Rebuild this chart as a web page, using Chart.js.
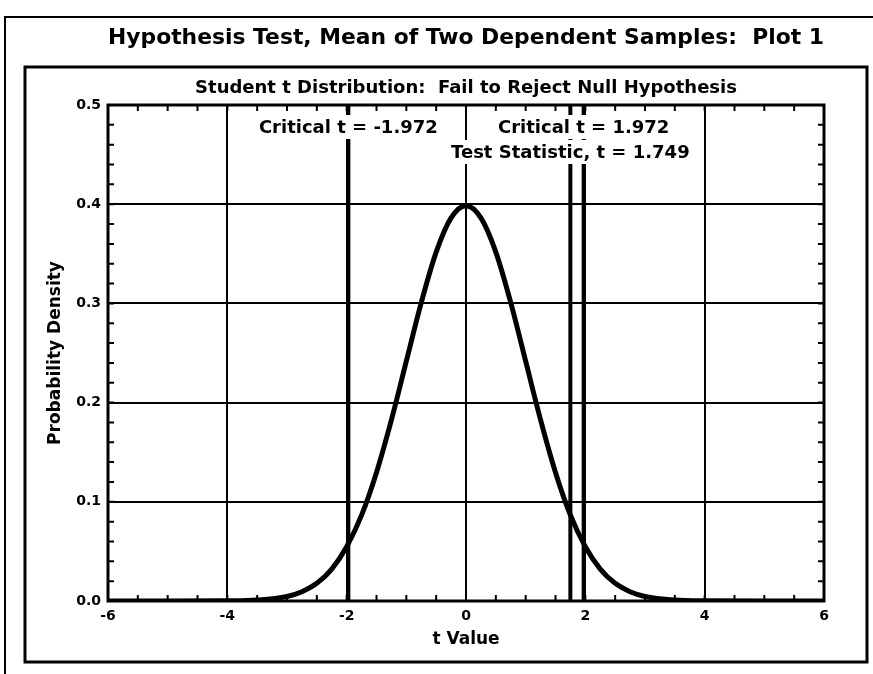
<!DOCTYPE html>
<html>
<head>
<meta charset="utf-8">
<script src="https://cdn.jsdelivr.net/npm/chart.js@4/dist/chart.umd.min.js"></script>
<style>
  html, body { margin: 0; padding: 0; background: #fff; }
  canvas { display: block; }
</style>
</head>
<body>
<canvas id="c" width="873" height="674"></canvas>
<script>
// ---- data ----
const tValues = [-6, -5, -4, -3.5, -3, -2.75, -2.5, -2.25, -2, -1.75, -1.5, -1.25, -1, -0.75, -0.5, -0.25,
                 0, 0.25, 0.5, 0.75, 1, 1.25, 1.5, 1.75, 2, 2.25, 2.5, 2.75, 3, 3.5, 4, 5, 6];
const density = [0.0000, 0.0000, 0.0002, 0.0010, 0.0046, 0.0094, 0.0178, 0.0322, 0.0547, 0.0865, 0.1296, 0.1826, 0.2417, 0.3008, 0.3517, 0.3862,
                 0.3984, 0.3862, 0.3517, 0.3008, 0.2417, 0.1826, 0.1296, 0.0865, 0.0547, 0.0322, 0.0178, 0.0094, 0.0046, 0.0010, 0.0002, 0.0000, 0.0000];
const criticalValues = [-1.972, 1.972];
const testStatistic = 1.749;
const xTicks = [-6, -4, -2, 0, 2, 4, 6];
const yTicks = [0.0, 0.1, 0.2, 0.3, 0.4, 0.5];
const criticalLabels = ["Critical t = -1.972", "Critical t = 1.972"];
const testLabel = "Test Statistic, t = 1.749";
const chartTitle = "Hypothesis Test, Mean of Two Dependent Samples:  Plot 1";
const chartSubtitle = "Student t Distribution:  Fail to Reject Null Hypothesis";
const xTitle = "t Value";
const yTitle = "Probability Density";

const FONT = "'DejaVu Sans', 'Liberation Sans', Arial, sans-serif";

const curveData = tValues.map((t, i) => ({ x: t, y: density[i] }));
const vLine = v => [{ x: v, y: yTicks[0] }, { x: v, y: yTicks[yTicks.length - 1] }];

const datasets = [
  ...criticalValues.map(v => ({ data: vLine(v), borderColor: '#000', borderWidth: 4, pointRadius: 0, tension: 0 })),
  { data: vLine(testStatistic), borderColor: '#000', borderWidth: 4, pointRadius: 0, tension: 0 },
  { data: curveData, borderColor: '#000', borderWidth: 5, pointRadius: 0, cubicInterpolationMode: 'monotone', borderJoinStyle: 'round', borderCapStyle: 'round' }
];

const framePlugin = {
  id: 'frames',
  beforeDraw(chart) {
    const ctx = chart.ctx;
    ctx.save();
    ctx.fillStyle = '#fff';
    ctx.fillRect(0, 0, chart.width, chart.height);
    ctx.strokeStyle = '#000';
    ctx.lineWidth = 2;
    ctx.strokeRect(5, 17, 900, 700);
    ctx.lineWidth = 3;
    ctx.strokeRect(25, 67, 842, 595);
    ctx.restore();
  },
  afterDatasetsDraw(chart) {
    const ctx = chart.ctx;
    const a = chart.chartArea;
    const xs = chart.scales.x, ys = chart.scales.y;
    ctx.save();
    ctx.strokeStyle = '#000';
    // minor ticks (inward)
    ctx.lineWidth = 2;
    const len = 6;
    ctx.beginPath();
    for (let v = xs.min; v <= xs.max + 1e-9; v += 0.5) {
      const px = xs.getPixelForValue(v);
      ctx.moveTo(px, a.bottom); ctx.lineTo(px, a.bottom - len);
      ctx.moveTo(px, a.top); ctx.lineTo(px, a.top + len);
    }
    for (let k = 0; k <= 25; k++) {
      const py = ys.getPixelForValue(k * 0.02);
      ctx.moveTo(a.left, py); ctx.lineTo(a.left + len, py);
      ctx.moveTo(a.right, py); ctx.lineTo(a.right - len, py);
    }
    ctx.stroke();
    // plot frame
    ctx.lineWidth = 3;
    ctx.strokeRect(a.left, a.top, a.right - a.left, a.bottom - a.top);
    // labels with white background
    ctx.font = 'bold 18px ' + FONT;
    ctx.textAlign = 'center';
    ctx.textBaseline = 'middle';
    const drawLabel = (text, value, dy) => {
      const px = xs.getPixelForValue(value);
      const w = ctx.measureText(text).width;
      const cy = a.top + dy;
      ctx.fillStyle = '#fff';
      ctx.fillRect(px - w / 2 - 3, cy - 12, w + 6, 24);
      ctx.fillStyle = '#000';
      ctx.fillText(text, px, cy + 1);
    };
    criticalValues.forEach((v, i) => drawLabel(criticalLabels[i], v, 22));
    drawLabel(testLabel, testStatistic, 47);
    ctx.restore();
  }
};

new Chart(document.getElementById('c'), {
  type: 'line',
  data: { datasets },
  plugins: [framePlugin],
  options: {
    responsive: false,
    animation: false,
    devicePixelRatio: 1,
    layout: { padding: { left: 0, right: 49, top: 0, bottom: 0 } },
    plugins: {
      legend: { display: false },
      tooltip: { enabled: false },
      title: {
        display: true, text: chartTitle, color: '#000', fullSize: false,
        font: { family: FONT, size: 22, weight: 'bold' },
        padding: { top: 25, bottom: 15 }
      },
      subtitle: {
        display: true, text: chartSubtitle, color: '#000', fullSize: false,
        font: { family: FONT, size: 18, weight: 'bold' },
        padding: { top: 11, bottom: 6 }
      }
    },
    scales: {
      x: {
        type: 'linear', min: xTicks[0], max: xTicks[xTicks.length - 1],
        afterBuildTicks: s => { s.ticks = xTicks.map(v => ({ value: v })); },
        afterFit: s => { s.height = 73; },
        grid: { color: '#000', lineWidth: 2, drawTicks: false },
        border: { display: false },
        ticks: { color: '#000', padding: 7, font: { family: FONT, size: 14, weight: 'bold' }, maxRotation: 0 },
        title: { display: true, text: xTitle, color: '#000', font: { family: FONT, size: 17, weight: 'bold' }, padding: { top: 0, bottom: 24 } }
      },
      y: {
        type: 'linear', min: yTicks[0], max: yTicks[yTicks.length - 1],
        afterBuildTicks: s => { s.ticks = yTicks.map(v => ({ value: v })); },
        afterFit: s => { s.width = 108; },
        grid: { color: '#000', lineWidth: 2, drawTicks: false },
        border: { display: false },
        ticks: { color: '#000', padding: 7, font: { family: FONT, size: 14, weight: 'bold' }, callback: v => Number(v).toFixed(1) },
        title: { display: true, text: yTitle, color: '#000', font: { family: FONT, size: 17, weight: 'bold' }, padding: { top: 45, bottom: 0 } }
      }
    }
  }
});
</script>
</body>
</html>
